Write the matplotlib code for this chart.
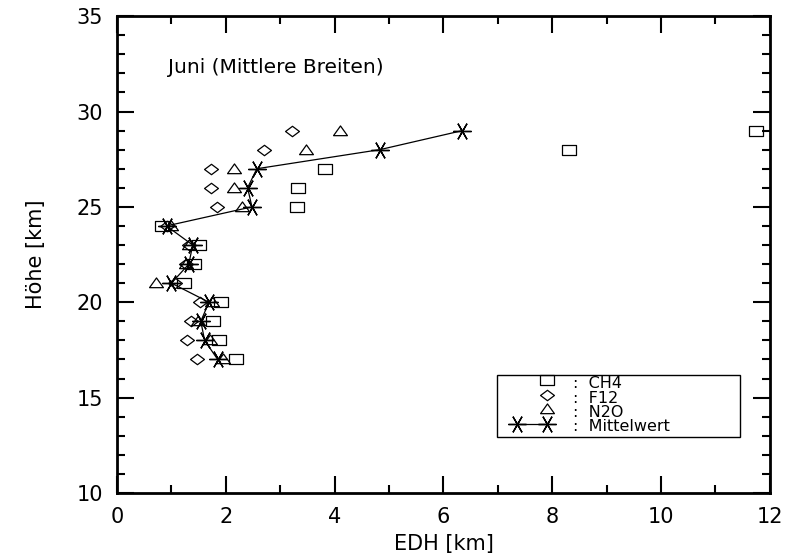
import matplotlib
matplotlib.use("Agg")
import matplotlib.pyplot as plt
from matplotlib.path import Path
from matplotlib.patches import Rectangle
from matplotlib.ticker import MultipleLocator

plt.rcParams['font.family'] = ['DejaVu Sans']

# heights [km]
hoehe = [29, 28, 27, 26, 25, 24, 23, 22, 21, 20, 19, 18, 17]

# EDH values [km]
ch4 = [11.75, 8.30, 3.83, 3.32, 3.30, 0.82, 1.51, 1.42, 1.23, 1.91, 1.77, 1.88, 2.18]
f12 = [3.21, 2.70, 1.72, 1.72, 1.84, 0.91, 1.33, 1.27, 1.06, 1.52, 1.36, 1.28, 1.47]
n2o = [4.10, 3.47, 2.15, 2.15, 2.30, 1.00, 1.33, 1.27, 0.71, 1.74, 1.49, 1.71, 1.95]
mittel = [6.35, 4.83, 2.57, 2.40, 2.48, 0.91, 1.39, 1.32, 1.00, 1.69, 1.54, 1.61, 1.85]

legend_labels = [':  CH4', ':  F12', ':  N2O', ':  Mittelwert']

# IDL-like symbols (slightly wider than tall)
rect = Path([(-1, -0.7), (1, -0.7), (1, 0.7), (-1, 0.7), (-1, -0.7)],
            [Path.MOVETO, Path.LINETO, Path.LINETO, Path.LINETO, Path.CLOSEPOLY])
diam = Path([(-1, 0), (0, 0.75), (1, 0), (0, -0.75), (-1, 0)],
            [Path.MOVETO, Path.LINETO, Path.LINETO, Path.LINETO, Path.CLOSEPOLY])
tri = Path([(-1, -0.6), (1, -0.6), (0, 0.8), (-1, -0.6)],
           [Path.MOVETO, Path.LINETO, Path.LINETO, Path.CLOSEPOLY])

fig = plt.figure(figsize=(7.88, 5.57), dpi=100)
ax = fig.add_axes([0.1485, 0.115, 0.8285, 0.856])

sym = dict(linestyle='none', markersize=10, markerfacecolor='none',
           markeredgecolor='black', markeredgewidth=0.9)
h1, = ax.plot(ch4, hoehe, marker=rect, **sym)
h2, = ax.plot(f12, hoehe, marker=diam, **sym)
h3, = ax.plot(n2o, hoehe, marker=tri, **sym)
h4, = ax.plot(mittel, hoehe, color='black', linewidth=0.9, marker=(6, 2, 90),
              markersize=13, markeredgecolor='black', markeredgewidth=1.0)

ax.set_xlim(0, 12)
ax.set_ylim(10, 35)
ax.xaxis.set_major_locator(MultipleLocator(2))
ax.xaxis.set_minor_locator(MultipleLocator(1))
ax.yaxis.set_major_locator(MultipleLocator(5))
ax.yaxis.set_minor_locator(MultipleLocator(1))
ax.tick_params(which='both', direction='in', top=True, right=True,
               width=1.5, labelsize=15, pad=10, colors='black')
ax.tick_params(which='major', length=12)
ax.tick_params(which='minor', length=6)
for s in ax.spines.values():
    s.set_linewidth(2)

ax.set_xlabel('EDH [km]', fontsize=15, labelpad=5)
ax.set_ylabel('Höhe [km]', fontsize=15, labelpad=22)

ax.text(0.93, 32.3, 'Juni (Mittlere Breiten)', fontsize=14.5,
        ha='left', va='center')

# legend: box, symbol keys from legend(), labels as one text block
ax.add_patch(Rectangle((0.582, 0.117), 0.372, 0.13, transform=ax.transAxes,
                       fill=False, edgecolor='black', linewidth=1.0))
top = 0.249
row = 0.0325
leg = ax.legend([h1, h2, h3, h4], [''] * 4, loc='upper left',
                bbox_to_anchor=(0.606, top), numpoints=2, frameon=False,
                fontsize=9.5, handlelength=2.9, handleheight=1.32,
                handletextpad=0.0, borderpad=0.0, labelspacing=0.0,
                borderaxespad=0)
for h in leg.legend_handles[:3]:
    h.set_markevery([1])
ax.text(0.698, top - 2 * row, '\n'.join(legend_labels), transform=ax.transAxes,
        fontsize=11.5, ha='left', va='center', linespacing=0.93)

fig.savefig('out.png', dpi=100)
